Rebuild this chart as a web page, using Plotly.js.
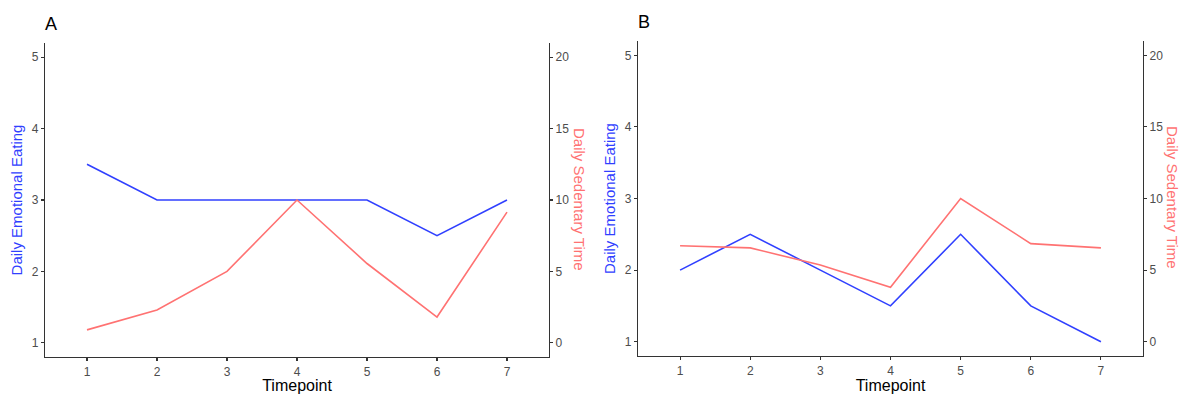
<!DOCTYPE html>
<html>
<head>
<meta charset="utf-8">
<script src="https://cdn.plot.ly/plotly-3.0.1.min.js"></script>
<style>html,body{margin:0;padding:0;background:#fff;}#chart{width:1182px;height:394px;}</style>
</head>
<body>
<div id="chart"></div>
<script>
var timepoints = [1, 2, 3, 4, 5, 6, 7];
var eatingA = [3.5, 3, 3, 3, 3, 2.5, 3];
var sedentaryA = [0.9, 2.3, 5.0, 10.0, 5.55, 1.8, 9.15];
var eatingB = [2, 2.5, 2, 1.5, 2.5, 1.5, 1];
var sedentaryB = [6.7, 6.55, 5.35, 3.8, 10.0, 6.85, 6.55];
var leftTicks = [1, 2, 3, 4, 5];
var rightTicks = [0, 5, 10, 15, 20];
var panelLabels = ['A', 'B'];
var leftTitle = 'Daily Emotional Eating';
var rightTitle = 'Daily Sedentary Time';
var xTitle = 'Timepoint';

var BLUE = '#3040ff';
var RED = '#ff7272';
var FONT = 'Liberation Sans, Arial, sans-serif';
var TICKC = '#4d4d4d';

var traces = [
  {x: timepoints, y: eatingA, xaxis: 'x', yaxis: 'y', mode: 'lines', line: {color: BLUE, width: 1.6}},
  {x: timepoints, y: sedentaryA, xaxis: 'x', yaxis: 'y2', mode: 'lines', line: {color: RED, width: 1.6}},
  {x: timepoints, y: eatingB, xaxis: 'x2', yaxis: 'y3', mode: 'lines', line: {color: BLUE, width: 1.6}},
  {x: timepoints, y: sedentaryB, xaxis: 'x2', yaxis: 'y4', mode: 'lines', line: {color: RED, width: 1.6}}
];

function xax(domain, anchor) {
  return {
    domain: domain, anchor: anchor, range: [0.4, 7.6],
    tickvals: timepoints, ticktext: timepoints.map(String),
    showline: true, linecolor: '#333', linewidth: 1.2,
    ticks: 'outside', ticklen: 3, tickcolor: '#333', tickwidth: 1.1,
    showgrid: false, zeroline: false,
    tickfont: {family: FONT, size: 12, color: TICKC},
    title: {text: xTitle, font: {family: FONT, size: 16, color: '#000'}, standoff: 3}
  };
}
function lyax(domain, anchor) {
  return {
    domain: domain, anchor: anchor, range: [0.8, 5.2],
    tickvals: leftTicks, ticktext: leftTicks.map(String),
    showline: true, linecolor: '#333', linewidth: 1.2,
    ticks: 'outside', ticklen: 3, tickcolor: '#333', tickwidth: 1.1,
    showgrid: false, zeroline: false,
    tickfont: {family: FONT, size: 12, color: TICKC},
    title: {text: leftTitle, font: {family: FONT, size: 15, color: BLUE}, standoff: 5}
  };
}
function ryax(overlay, anchor) {
  return {
    overlaying: overlay, anchor: anchor, side: 'right', range: [-1, 21],
    tickvals: rightTicks, ticktext: rightTicks.map(String),
    showline: true, linecolor: '#333', linewidth: 1.2,
    ticks: 'outside', ticklen: 3, tickcolor: '#333', tickwidth: 1.1,
    showgrid: false, zeroline: false,
    tickfont: {family: FONT, size: 12, color: TICKC}
  };
}

var W = 1182, H = 394;
var xdA = [45 / W, 549 / W];
var xdB = [638 / W, 1143 / W];
var ydA = [(H - 357) / H, (H - 43) / H];
var ydB = [(H - 356) / H, (H - 41) / H];

var layout = {
  width: W, height: H,
  margin: {l: 0, r: 0, t: 0, b: 0},
  paper_bgcolor: '#fff', plot_bgcolor: 'rgba(0,0,0,0)',
  showlegend: false,
  font: {family: FONT},
  xaxis: xax(xdA, 'y'),
  yaxis: lyax(ydA, 'x'),
  yaxis2: Object.assign(ryax('y', 'x'), {domain: ydA}),
  xaxis2: xax(xdB, 'y3'),
  yaxis3: lyax(ydB, 'x2'),
  yaxis4: Object.assign(ryax('y3', 'x2'), {domain: ydB}),
  annotations: [
    {text: panelLabels[0], xref: 'paper', yref: 'paper', x: 43 / W, y: (H - 24) / H, xanchor: 'left', yanchor: 'middle', showarrow: false, font: {family: FONT, size: 18, color: '#000'}},
    {text: panelLabels[1], xref: 'paper', yref: 'paper', x: 636 / W, y: (H - 22) / H, xanchor: 'left', yanchor: 'middle', showarrow: false, font: {family: FONT, size: 18, color: '#000'}},
    {text: rightTitle, xref: 'paper', yref: 'paper', x: 580 / W, y: (H - 199) / H, xanchor: 'center', yanchor: 'middle', textangle: 90, showarrow: false, font: {family: FONT, size: 15, color: RED}},
    {text: rightTitle, xref: 'paper', yref: 'paper', x: 1173 / W, y: (H - 197) / H, xanchor: 'center', yanchor: 'middle', textangle: 90, showarrow: false, font: {family: FONT, size: 15, color: RED}}
  ]
};

Plotly.newPlot('chart', traces, layout, {staticPlot: true, displayModeBar: false});
</script>
</body>
</html>
